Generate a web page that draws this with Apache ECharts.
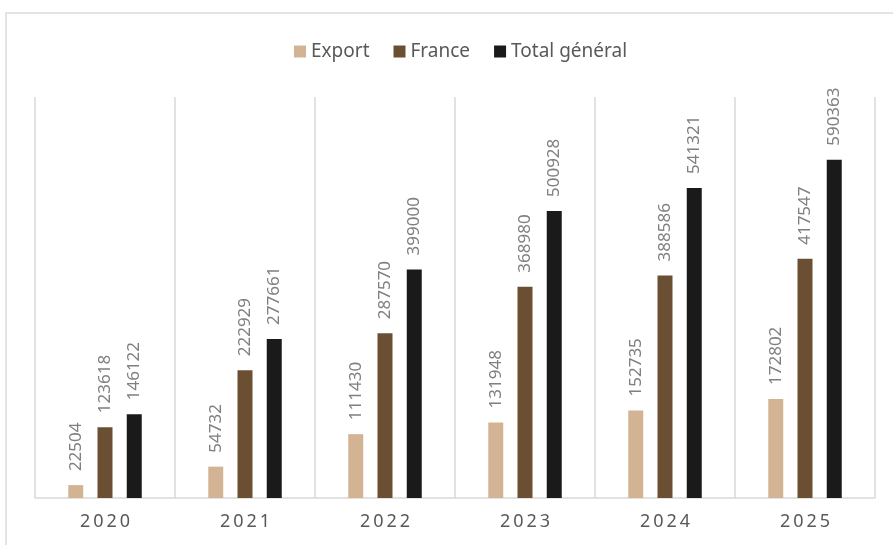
<!DOCTYPE html>
<html>
<head>
<meta charset="utf-8">
<script src="https://cdn.jsdelivr.net/npm/echarts@6/dist/echarts.min.js"></script>
<style>
  html, body { margin: 0; padding: 0; background: #fff; }
  #chart { width: 893px; height: 545px; }
</style>
</head>
<body>
<div id="chart"></div>
<script>
// years on the category axis
const years = ['2020', '2021', '2022', '2023', '2024', '2025'];

// series values
const exportValues = [22504, 54732, 111430, 131948, 152735, 172802];
const franceValues = [123618, 222929, 287570, 368980, 388586, 417547];
const totalValues = [146122, 277661, 399000, 500928, 541321, 590363];

const seriesNames = ['Export', 'France', 'Total général'];
const seriesColors = ['#D2B494', '#6A4F33', '#1A1A1A'];

const FONT = '"Noto Sans", sans-serif';

// label shown above each bar, rotated
const barLabel = {
  show: true,
  position: 'top',
  rotate: 90,
  align: 'left',
  verticalAlign: 'middle',
  distance: 14,
  color: '#808080',
  fontSize: 17,
  fontFamily: FONT
};

function makeSeries(name, values, color) {
  return {
    name: name,
    type: 'bar',
    data: values,
    barWidth: 15,
    barGap: '95%',
    itemStyle: { color: color },
    label: barLabel,
    emphasis: { disabled: true }
  };
}

const chart = echarts.init(document.getElementById('chart'));

chart.setOption({
  animation: false,
  color: seriesColors,
  graphic: [{
    type: 'rect',
    silent: true,
    shape: { x: 6, y: 13, width: 1000, height: 1000 },
    style: { fill: 'none', stroke: '#dcdcdc', lineWidth: 1.5 }
  }],
  legend: {
    data: seriesNames,
    left: 289,
    top: 37,
    icon: 'rect',
    itemWidth: 12,
    itemHeight: 12,
    itemGap: 24,
    textStyle: { color: '#595959', fontSize: 19, fontFamily: FONT }
  },
  grid: {
    left: 35,
    right: 18,
    top: 97,
    bottom: 47,
    outerBoundsMode: 'none'
  },
  xAxis: {
    type: 'category',
    data: years,
    axisTick: { show: false },
    axisLine: { lineStyle: { color: '#d9d9d9', width: 1.5 } },
    splitLine: { show: true, lineStyle: { color: '#d9d9d9', width: 1.5 } },
    axisLabel: {
      color: '#595959',
      fontSize: 18,
      fontFamily: FONT,
      margin: 15,
      // spread the digits like the original
      formatter: (v) => v.split('').join('\u2009')
    }
  },
  yAxis: {
    type: 'value',
    show: false,
    min: 0,
    max: 700000,
    splitLine: { show: false }
  },
  series: [
    makeSeries(seriesNames[0], exportValues, seriesColors[0]),
    makeSeries(seriesNames[1], franceValues, seriesColors[1]),
    makeSeries(seriesNames[2], totalValues, seriesColors[2])
  ]
});
</script>
</body>
</html>
